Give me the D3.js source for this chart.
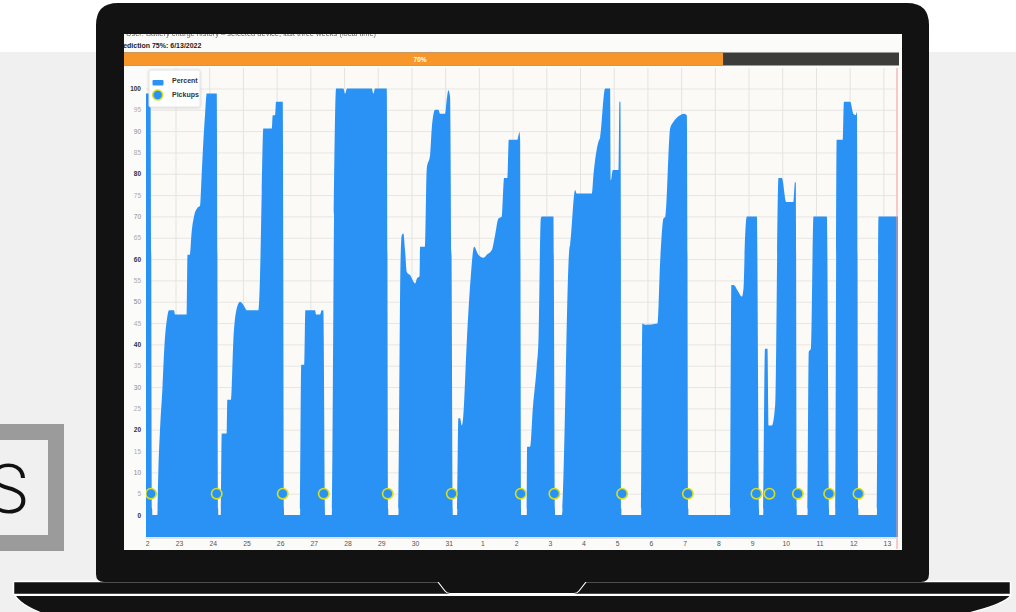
<!DOCTYPE html>
<html><head><meta charset="utf-8">
<script src="https://cdn.jsdelivr.net/npm/d3@7"></script>
<style>html,body{margin:0;padding:0;background:#fff;overflow:hidden}svg{display:block}</style>
</head><body>
<script>
// ---------------- data ----------------
const startDay = Date.UTC(2022, 4, 22); // 22 May 2022, 00:00
const percentDays = [
  0.10,0.258,0.312,0.460,
  0.490,0.540,0.614,0.674,0.748,0.807,0.955,0.985,1.332,1.356,1.430,1.475,1.549,1.647,1.727,1.777,1.825,1.875,1.926,2.223,2.270,2.341,
  2.371,2.519,2.537,2.647,2.715,2.816,2.914,3.033,3.113,3.457,3.507,3.558,3.605,3.855,3.884,3.953,3.982,4.181,4.220,4.694,
  4.730,4.822,4.852,5.139,5.169,5.288,5.338,5.386,5.436,5.635,
  5.703,5.763,5.979,6.030,6.089,6.822,6.869,6.920,7.267,7.315,7.611,
  7.677,7.712,7.760,7.810,7.861,7.958,8.107,8.166,8.240,8.255,8.404,8.454,8.552,8.602,8.700,8.798,8.849,8.997,9.047,9.095,9.145,9.190,9.226,9.353,
  9.392,9.442,9.493,9.531,9.641,9.760,9.858,9.985,10.134,10.234,10.383,10.481,10.579,10.680,10.748,10.846,10.887,11.142,11.202,11.223,11.252,11.421,
  11.430,11.519,11.600,11.718,11.766,11.837,11.866,12.211,12.261,12.460,
  12.685,12.706,12.855,12.899,13.350,13.398,13.546,13.596,13.745,13.893,13.914,13.973,14.151,14.169,14.199,14.208,14.228,14.813,
  14.849,14.932,15.297,15.377,15.475,15.534,15.674,15.772,15.970,16.068,16.169,16.217,17.454,
  17.490,17.552,17.700,17.801,17.849,17.899,17.950,18.246,18.315,18.433,
  18.487,18.561,18.596,18.691,18.789,18.887,18.988,19.116,19.332,19.377,19.401,19.433,19.748,
  19.786,19.849,19.926,20.323,20.392,20.570,
  20.614,20.798,20.828,21.015,21.113,21.178,21.214,21.261,21.807,
  21.855,22.5
];
const percentValues = [
  98.8,98.8,0,0,
  10,20,30,40,46,48,48,47,47,61,61,66,70,72,72.5,80,87.5,93.75,98.8,98.8,0,0,
  19.1,19.1,27,27,40.6,48.4,50,49,48,48,56,75.8,90.6,90.6,93.75,93.75,96.9,96.9,0,0,
  35.2,35.2,48,48,47,47,48,48,0,0,
  70,100,100,98.8,100,100,98.8,100,100,0,0,
  60,65.6,66,62,57,56.25,54.3,55.5,56,62.9,62.9,81.25,84.4,90.6,95,95,94.1,94.1,97.5,99.6,98,60,0,0,
  22.7,22.7,21,22.7,40.6,56,62.9,61,60.3,61,62.1,65.6,69.5,70,79,79,88,88,89.8,88,0,0,
  16,16,25,35,40.6,69.5,70,70,0,0,
  62.5,63.3,76.2,75.4,75.4,79.7,87.5,88.5,100,100,78.5,80.9,80.9,96.9,96.9,80,0,0,
  44.9,44.6,44.9,59.4,69.5,70,90.6,92.2,93.75,94.1,93.75,0,0,
  53.9,53.9,52.3,51.2,53,65.6,70,70,0,0,
  39,39,21,21,25.8,79,79,73.4,73.4,78,78,0,0,
  38.3,39,70,70,0,0,
  88,88,96.9,96.9,94,93.75,94.5,0,0,
  70,70
];
const pickupDays = [0.273,2.222,4.181,5.398,7.297,9.196,11.243,12.240,14.249,16.199,18.234,18.620,19.463,20.392,21.261];
const pickupValues = [5,5,5,5,5,5,5,5,5,5,5,5,5,5,5];
const yTickValues = [0,5,10,15,20,25,30,35,40,45,50,55,60,65,70,75,80,85,90,95,100];
const dayLabels = ["22","23","24","25","26","27","28","29","30","31","1","2","3","4","5","6","7","8","9","10","11","12","13"];
const seriesNames = ["Percent","Pickups"];
const titleText = "Prediction 75%: 6/13/2022";
const headerText = "User: Battery charge history \u2013 selected device, last three weeks (local time)";
const progressLabel = "70%";
const progressFilled = 77.5;   // share of the bar drawn orange
const sideLetter = "S";

// ---------------- page ----------------
const W = 1016, H = 612;
const BLUE = "#2b92f5", RING = "#d6df1f";
const svg = d3.select("body").append("svg").attr("width", W).attr("height", H);
const defs = svg.append("defs");

svg.append("rect").attr("width", W).attr("height", H).attr("fill", "#f0f0f0");
svg.append("rect").attr("width", W).attr("height", 52).attr("fill", "#ffffff");

// left box with letter
svg.append("rect").attr("x", -60).attr("y", 432).attr("width", 116).attr("height", 111)
  .attr("fill", "#f0f0f0").attr("stroke", "#9b9b9b").attr("stroke-width", 16);
svg.append("text").attr("x", 28).attr("y", 513).attr("text-anchor", "end")
  .attr("font-family", "Roboto").attr("font-weight", 300).attr("font-size", 68)
  .attr("fill", "#111").text(sideLetter);

// laptop base
const base = svg.append("g");
base.append("path")
  .attr("d", "M15,595.5 H1011 C1004,604 984,610 955,616 H52 C34,612 20,603 15,595.5 Z")
  .attr("fill", "#121212").attr("stroke", "#ffffff").attr("stroke-width", 1.2);
base.append("rect").attr("x", 13.5).attr("y", 581.5).attr("width", 997).attr("height", 13)
  .attr("fill", "#121212").attr("stroke", "#ffffff").attr("stroke-width", 1.5);
base.append("path")
  .attr("d", "M438,582 L445,591 Q447,593.5 450,593.5 H574 Q577,593.5 579,591 L586,582")
  .attr("fill", "#121212").attr("stroke", "#ffffff").attr("stroke-width", 1.2);

// lid
svg.append("path")
  .attr("d", "M96,25 Q96,3 118,3 H907 Q929,3 929,25 V574 Q929,582 921,582 H104 Q96,582 96,574 Z")
  .attr("fill", "#121212");

// screen
const SX0 = 124, SY0 = 34, SX1 = 902, SY1 = 550;
defs.append("clipPath").attr("id", "screenClip").append("rect")
  .attr("x", SX0).attr("y", SY0).attr("width", SX1 - SX0).attr("height", SY1 - SY0);
const screen = svg.append("g").attr("clip-path", "url(#screenClip)");
screen.append("rect").attr("x", SX0).attr("y", SY0).attr("width", SX1 - SX0).attr("height", SY1 - SY0)
  .attr("fill", "#fbfbf9");

defs.append("filter").attr("id", "blur").append("feGaussianBlur").attr("stdDeviation", 0.7);
screen.append("text").attr("x", 126).attr("y", 36).attr("font-family", "Liberation Sans")
  .attr("font-size", 7.5).attr("fill", "#666").attr("filter", "url(#blur)").text(headerText);
screen.append("text").attr("x", 115.8).attr("y", 47.7).attr("font-family", "Liberation Sans")
  .attr("font-weight", "bold").attr("font-size", 7).attr("fill", "#222").text(titleText);

// progress bar
const px = d3.scaleLinear().domain([0, 100]).range([117, 899]);
screen.append("rect").attr("x", px(0)).attr("y", 52.5).attr("width", px(100) - px(0)).attr("height", 13)
  .attr("fill", "#3c3c3a");
screen.append("rect").attr("x", px(0)).attr("y", 52.5).attr("width", px(progressFilled) - px(0)).attr("height", 13)
  .attr("fill", "#f7962a");
screen.append("text").attr("x", (px(0) + px(progressFilled)) / 2).attr("y", 61.5).attr("text-anchor", "middle")
  .attr("font-family", "Liberation Sans").attr("font-weight", "bold").attr("font-size", 6.5)
  .attr("fill", "#fff").text(progressLabel);

// ---------------- chart ----------------
const L = 146, R = 897, T = 68, B = 537;
const toDate = d => new Date(startDay + d * 864e5);
const x = d3.scaleUtc().domain([toDate(0.1246), toDate(22.4036)]).range([L, R]);
const y = d3.scaleLinear().domain([-5.16, 104.8]).range([B, T]);

screen.append("rect").attr("x", L).attr("y", T).attr("width", R - L).attr("height", B - T).attr("fill", "#fbfaf7");

defs.append("clipPath").attr("id", "plotClip").append("rect")
  .attr("x", L).attr("y", T).attr("width", R - L + 1).attr("height", B - T);
const plot = screen.append("g").attr("clip-path", "url(#plotClip)");

const dayDates = dayLabels.map((_, i) => toDate(i));

// grid
const gy = plot.append("g").attr("transform", `translate(${L},0)`)
  .call(d3.axisLeft(y).tickValues(yTickValues).tickSize(-(R - L)).tickFormat(""));
gy.select(".domain").remove();
gy.selectAll("line").attr("stroke", "#e9e6e1").attr("stroke-width", 1);
const gx = plot.append("g").attr("transform", `translate(0,${B})`)
  .call(d3.axisBottom(x).tickValues(dayDates).tickSize(-(B - T)).tickFormat(""));
gx.select(".domain").remove();
gx.selectAll("line").attr("stroke", "#e6e3de").attr("stroke-width", 1);

// area
const pts = percentDays.map((d, i) => ({ t: toDate(d), v: percentValues[i] }));
plot.append("path").datum(pts)
  .attr("d", d3.area().x(d => x(d.t)).y0(y(-5.16)).y1(d => y(d.v)).curve(d3.curveMonotoneX))
  .attr("fill", BLUE);

// pickups
plot.selectAll("circle.pick").data(pickupDays.map((d, i) => ({ t: toDate(d), v: pickupValues[i] })))
  .join("circle").attr("class", "pick")
  .attr("cx", d => x(d.t)).attr("cy", d => y(d.v)).attr("r", 5.2)
  .attr("fill", BLUE).attr("stroke", RING).attr("stroke-width", 1.6);

// now line
screen.append("line").attr("x1", R).attr("x2", R).attr("y1", T).attr("y2", 549)
  .attr("stroke", "#f29a9a").attr("stroke-width", 1);

// bottom axis line
screen.append("line").attr("x1", L).attr("x2", R).attr("y1", B + 1).attr("y2", B + 1)
  .attr("stroke", "#dedbd6").attr("stroke-width", 1.5);

// y labels
const ya = screen.append("g").attr("transform", `translate(141,0)`)
  .call(d3.axisLeft(y).tickValues(yTickValues).tickSize(0).tickPadding(0));
ya.select(".domain").remove();
ya.selectAll("text").attr("font-family", "Liberation Sans").attr("font-size", 6.5)
  .attr("font-weight", d => d % 20 === 0 ? "bold" : "normal")
  .attr("fill", d => d % 20 === 0 ? "#333" : (d % 10 === 0 ? "#888" : "#aaa"));

// x labels
defs.append("clipPath").attr("id", "xlabClip").append("rect")
  .attr("x", L).attr("y", B).attr("width", R - L + 10).attr("height", 20);
const xa = screen.append("g").attr("clip-path", "url(#xlabClip)").append("g")
  .attr("transform", `translate(3.5,${B})`)
  .call(d3.axisBottom(x).tickValues(dayDates).tickSize(0).tickPadding(4)
    .tickFormat((d, i) => dayLabels[i]));
xa.select(".domain").remove();
xa.selectAll("text").attr("font-family", "Liberation Sans").attr("font-size", 6.8).attr("fill", "#555");

// legend
defs.append("filter").attr("id", "shadow").append("feDropShadow")
  .attr("dx", 0).attr("dy", 0.5).attr("stdDeviation", 0.8).attr("flood-opacity", 0.18);
const lg = screen.append("g");
lg.append("rect").attr("x", 149).attr("y", 70).attr("width", 51).attr("height", 37).attr("rx", 1.5)
  .attr("fill", "#fff").attr("stroke", "#e2e2e2").attr("filter", "url(#shadow)");
lg.append("rect").attr("x", 152.5).attr("y", 80).attr("width", 11).attr("height", 5.5).attr("rx", 1)
  .attr("fill", BLUE);
lg.append("circle").attr("cx", 157.7).attr("cy", 95).attr("r", 5).attr("fill", BLUE)
  .attr("stroke", RING).attr("stroke-width", 1.6);
lg.selectAll("text.lab").data(seriesNames).join("text").attr("class", "lab")
  .attr("x", 172).attr("y", (d, i) => 83.3 + i * 13.6)
  .attr("font-family", "Liberation Sans").attr("font-weight", "bold").attr("font-size", 7)
  .attr("fill", "#333").text(d => d);
</script>
</body></html>
